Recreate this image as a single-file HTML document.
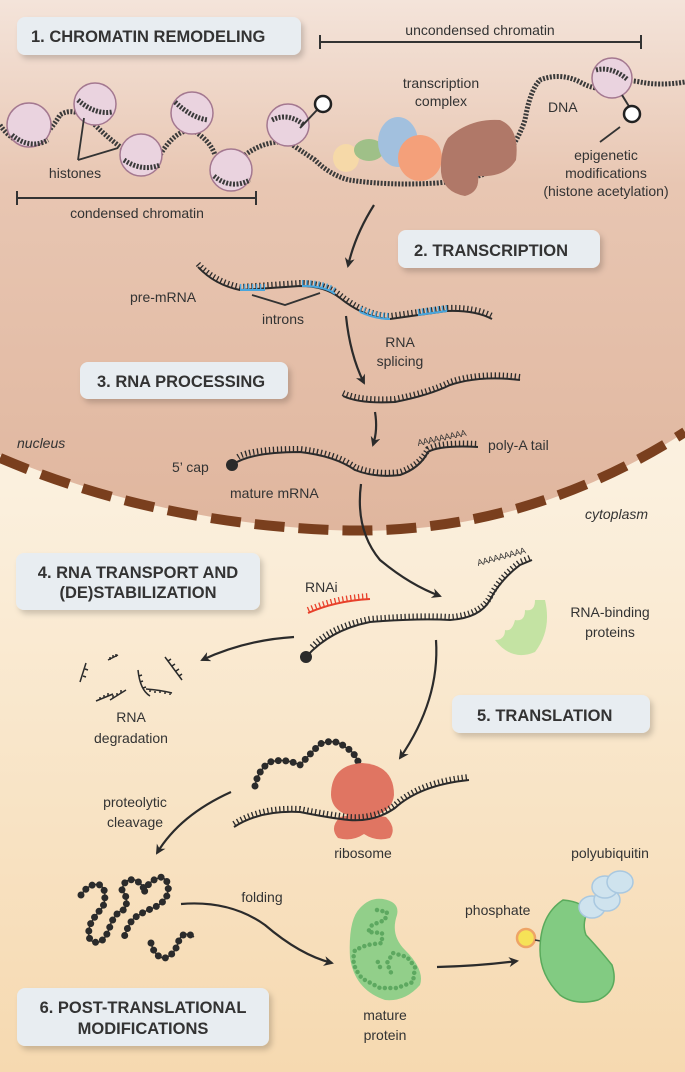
<!DOCTYPE html>
<html><head><meta charset="utf-8"><style>
html,body{margin:0;padding:0;width:685px;height:1072px;overflow:hidden}
svg{display:block}
text{font-family:"Liberation Sans",sans-serif;fill:#333}
.lb{font-size:14px}
.bx{font-size:16.5px;font-weight:bold;fill:#333}
.s{fill:none;stroke:#2b2b2b;stroke-width:2}
.t{fill:none;stroke:#2b2b2b;stroke-width:6;stroke-dasharray:1.3 2.7}
.tb{fill:none;stroke:#4aa6dc;stroke-width:6;stroke-dasharray:1.3 2.7}
.sb{fill:none;stroke:#4aa6dc;stroke-width:2}
.ar{fill:none;stroke:#2b2b2b;stroke-width:2.2;marker-end:url(#ah)}
.dna{fill:none;stroke:#3a3a3a;stroke-width:5;stroke-dasharray:2 1.5}
.h{fill:#ead3df;stroke:#a47890;stroke-width:1.5}
.box{fill:#e8edf1;filter:url(#sh)}
.bead{fill:none;stroke:#2b2b2b;stroke-width:7;stroke-linecap:round;stroke-dasharray:0 7.5}
.beadl{fill:none;stroke:#2b2b2b;stroke-width:1.5}
</style></head><body>
<svg width="685" height="1072" viewBox="0 0 685 1072" xmlns="http://www.w3.org/2000/svg">
<defs>
<linearGradient id="nuc" x1="0" y1="0" x2="0" y2="1">
<stop offset="0" stop-color="#f4e4da"/><stop offset="0.35" stop-color="#e8c6b2"/><stop offset="1" stop-color="#e0b69e"/></linearGradient>
<linearGradient id="cyt" x1="0" y1="0" x2="0" y2="1">
<stop offset="0" stop-color="#fcf8ef"/><stop offset="0.45" stop-color="#fbf0de"/><stop offset="1" stop-color="#f6d9b0"/></linearGradient>
<marker id="ah" markerWidth="10" markerHeight="10" refX="8" refY="5" orient="auto" markerUnits="userSpaceOnUse"><path d="M0,0 L10,5 L0,10 L3,5 Z" fill="#2b2b2b"/></marker>
<filter id="sh" x="-10%" y="-20%" width="130%" height="160%"><feDropShadow dx="3" dy="4" stdDeviation="3" flood-color="#000" flood-opacity="0.18"/></filter>
</defs>
<rect width="685" height="1072" fill="url(#cyt)"/>
<path d="M0,0 H685 V432 Q520,540 330,530 Q150,520 0,455 Z" fill="url(#nuc)"/>
<path d="M0,458 Q150,522 330,530 Q520,538 685,432" fill="none" stroke="#7a3f1e" stroke-width="10" stroke-dasharray="30 14"/>

<!-- box 1 -->
<rect class="box" x="17" y="17" width="284" height="38" rx="8"/>
<text class="bx" x="31" y="42">1. CHROMATIN REMODELING</text>
<text class="lb" x="480" y="35" text-anchor="middle">uncondensed chromatin</text>
<path d="M320,42 H641 M320,35 V49 M641,35 V49" stroke="#333" stroke-width="2"/>

<!-- DNA -->
<path class="dna" d="M0,125 Q10,140 28,145 Q45,140 60,115 Q75,105 95,125 Q110,140 125,150 Q135,160 160,155 Q175,130 192,130 Q210,140 215,155 Q225,165 245,155 Q265,140 288,142 Q300,150 315,160 Q330,175 349,180 Q390,186 437,183 Q470,180 490,172 Q515,150 525,120 Q530,90 540,80 Q560,72 580,82 Q598,92 605,85 Q620,78 640,82 Q660,86 685,82"/>
<circle class="h" cx="29" cy="125" r="22"/>
<circle class="h" cx="95" cy="104" r="21"/>
<circle class="h" cx="141" cy="155" r="21"/>
<circle class="h" cx="192" cy="113" r="21"/>
<circle class="h" cx="231" cy="170" r="21"/>
<circle class="h" cx="288" cy="125" r="21"/>
<circle class="h" cx="612" cy="78" r="20"/>
<path class="dna" d="M12,135 Q30,150 48,140 M78,100 Q95,115 112,112 M124,160 Q142,172 160,165 M175,102 Q192,118 208,120 M214,176 Q231,190 250,180 M272,120 Q288,112 304,125 M596,70 Q612,66 628,80"/>
<path d="M300,128 L317,110" stroke="#333" stroke-width="2"/>
<circle cx="323" cy="104" r="8" fill="#fff" stroke="#222" stroke-width="2.5"/>
<path d="M622,95 L630,108" stroke="#333" stroke-width="2"/>
<circle cx="632" cy="114" r="8" fill="#fff" stroke="#222" stroke-width="2.5"/>
<path d="M78,160 L84,118 M78,160 L118,148" stroke="#333" stroke-width="1.8" fill="none"/>
<text class="lb" x="75" y="178" text-anchor="middle">histones</text>
<path d="M17,198 H256 M17,191 V205 M256,191 V205" stroke="#333" stroke-width="2"/>
<text class="lb" x="137" y="218" text-anchor="middle">condensed chromatin</text>

<!-- transcription complex -->
<text class="lb" x="441" y="88" text-anchor="middle">transcription</text>
<text class="lb" x="441" y="106" text-anchor="middle">complex</text>
<ellipse cx="346" cy="158" rx="13" ry="14" fill="#f6d9a8"/>
<ellipse cx="369" cy="150" rx="15" ry="11" fill="#9fc088"/>
<ellipse cx="398" cy="142" rx="20" ry="25" fill="#a2c0de"/>
<ellipse cx="420" cy="158" rx="22" ry="23" fill="#f4a07a"/>
<path d="M448,138 Q470,118 500,120 Q520,128 516,160 Q505,178 478,176 Q480,192 465,196 Q443,192 441,172 Q440,150 448,138 Z" fill="#b07868"/>
<text class="lb" x="548" y="112">DNA</text>
<text class="lb" x="606" y="160" text-anchor="middle">epigenetic</text>
<text class="lb" x="606" y="178" text-anchor="middle">modifications</text>
<text class="lb" x="606" y="196" text-anchor="middle">(histone acetylation)</text>
<path d="M600,142 L620,127" stroke="#333" stroke-width="1.8"/>

<!-- transcription -->
<path class="ar" d="M374,205 Q355,235 348,266"/>
<rect class="box" x="398" y="230" width="202" height="38" rx="8"/>
<text class="bx" x="414" y="256">2. TRANSCRIPTION</text>

<!-- pre-mRNA -->
<g>
<path class="s" d="M198,267 Q215,285 240,290 L300,286 Q325,286 340,298 Q365,318 390,319 L447,311 Q475,310 492,319"/>
<g transform="translate(0,-3)"><path class="t" d="M198,267 Q215,285 240,290 L300,286 Q325,286 340,298 Q365,318 390,319 L447,311 Q475,310 492,319"/></g>
<path class="sb" d="M240,290 L265,290 M302,286 Q325,286 335,294 M360,312 Q375,319 390,319 M418,315 L447,311"/>
<g transform="translate(0,-3)"><path class="tb" d="M240,290 L265,290 M302,286 Q325,286 335,294 M360,312 Q375,319 390,319 M418,315 L447,311"/></g>
</g>
<text class="lb" x="130" y="302">pre-mRNA</text>
<path d="M252,295 L285,305 L320,293" stroke="#333" stroke-width="1.8" fill="none"/>
<text class="lb" x="283" y="324" text-anchor="middle">introns</text>
<path class="ar" d="M346,316 Q350,355 364,383"/>
<text class="lb" x="400" y="347" text-anchor="middle">RNA</text>
<text class="lb" x="400" y="366" text-anchor="middle">splicing</text>
<rect class="box" x="80" y="362" width="208" height="37" rx="8"/>
<text class="bx" x="97" y="387">3. RNA PROCESSING</text>
<path class="s" d="M343,396 Q360,404 395,402 Q430,395 450,385 Q480,375 520,380"/>
<g transform="translate(0,-3)"><path class="t" d="M343,396 Q360,404 395,402 Q430,395 450,385 Q480,375 520,380"/></g>
<path class="ar" d="M375,412 Q378,430 373,445"/>

<text class="lb" x="17" y="448" font-style="italic">nucleus</text>
<text class="lb" x="172" y="472">5’ cap</text>
<circle cx="232" cy="465" r="6" fill="#2b2b2b"/>
<path class="s" d="M232,465 Q250,452 300,452 Q335,456 355,470 Q375,478 400,475 Q420,468 428,452 Q440,445 478,447"/>
<g transform="translate(0,-3)"><path class="t" d="M238,460 Q250,452 300,452 Q335,456 355,470 Q375,478 400,475 Q420,468 428,452 Q440,445 478,447"/></g>
<text x="418" y="446" font-size="9" transform="rotate(-12 418 446)" letter-spacing="-0.5">AAAAAAAAA</text>
<text class="lb" x="488" y="450">poly-A tail</text>
<text class="lb" x="230" y="498">mature mRNA</text>
<text class="lb" x="585" y="519" font-style="italic">cytoplasm</text>
<path class="ar" d="M361,484 Q355,530 380,560 Q410,585 440,596"/>

<!-- box 4 -->
<rect class="box" x="16" y="553" width="244" height="57" rx="8"/>
<text class="bx" x="138" y="578" text-anchor="middle">4. RNA TRANSPORT AND</text>
<text class="bx" x="138" y="598" text-anchor="middle">(DE)STABILIZATION</text>
<text class="lb" x="305" y="592">RNAi</text>
<path d="M308,613 Q335,601 370,599" fill="none" stroke="#e8402a" stroke-width="2"/>
<g transform="translate(0,-3)"><path d="M308,613 Q335,601 370,599" fill="none" stroke="#e8402a" stroke-width="6" stroke-dasharray="1.3 2.7"/></g>
<circle cx="306" cy="657" r="6" fill="#2b2b2b"/>
<path class="s" d="M306,657 Q330,630 370,622 Q420,618 450,620 Q480,618 490,600 Q500,580 520,565 L532,560"/>
<g transform="translate(0,-3)"><path class="t" d="M312,650 Q330,630 370,622 Q420,618 450,620 Q480,618 490,600 Q500,580 520,565 L532,560"/></g>
<text x="478" y="566" font-size="9" transform="rotate(-15 478 566)" letter-spacing="-0.5">AAAAAAAAA</text>
<path d="M545,600 Q552,630 535,652 Q512,662 495,640 Q505,640 505,630 Q512,632 515,620 Q525,622 525,610 Q535,612 535,600 Z" fill="#c4e3a3"/>
<text class="lb" x="610" y="617" text-anchor="middle">RNA-binding</text>
<text class="lb" x="610" y="637" text-anchor="middle">proteins</text>
<path class="ar" d="M294,637 Q245,640 202,660"/>
<g stroke="#2b2b2b" stroke-width="1.5" fill="none">
<path d="M108,660 L118,655 M110,660v-3 M113,658v-3 M116,657v-3"/>
<path d="M165,657 L182,680 M168,661l3,-2 M172,666l3,-2 M176,671l3,-2 M179,676l3,-2"/>
<path d="M138,670 Q140,690 150,696 M139,676l3,-1 M140,682l3,-1 M143,688l3,-1"/>
<path d="M80,682 L86,663 M83,676l3,1 M85,669l3,1"/>
<path d="M110,700 L126,690 M113,698v-3 M117,696v-3 M121,693v-3"/>
<path d="M96,701 L113,694 M100,700v-3 M104,698v-3 M108,696v-3"/>
<path d="M146,689 Q160,690 172,693 M150,689v3 M155,690v3 M160,690v3 M165,691v3 M170,692v3"/>
</g>
<text class="lb" x="131" y="722" text-anchor="middle">RNA</text>
<text class="lb" x="131" y="743" text-anchor="middle">degradation</text>

<!-- translation -->
<rect class="box" x="452" y="695" width="198" height="38" rx="8"/>
<text class="bx" x="477" y="721">5. TRANSLATION</text>
<path class="ar" d="M436,640 Q440,700 400,758"/>
<path class="beadl" d="M255,786 Q258,770 270,762 Q285,758 300,765 Q312,752 320,744 Q335,738 345,747 Q355,752 359,764"/>
<path class="bead" d="M255,786 Q258,770 270,762 Q285,758 300,765 Q312,752 320,744 Q335,738 345,747 Q355,752 359,764"/>
<path d="M362,763 Q394,765 394,795 Q392,815 362,818 Q332,815 331,795 Q331,765 362,763 Z" fill="#e07562"/>
<path d="M340,817 Q362,812 386,817 Q397,828 390,838 Q376,842 364,834 Q352,842 338,838 Q329,828 340,817 Z" fill="#e07562"/>
<path class="s" d="M234,827 Q260,810 300,812 Q330,818 349,820 Q375,822 395,808 Q420,785 469,780"/>
<g transform="translate(0,-3)"><path class="t" d="M234,827 Q260,810 300,812 Q330,818 349,820 Q375,822 395,808 Q420,785 469,780"/></g>
<text class="lb" x="363" y="858" text-anchor="middle">ribosome</text>
<text class="lb" x="135" y="807" text-anchor="middle">proteolytic</text>
<text class="lb" x="135" y="827" text-anchor="middle">cleavage</text>
<path class="ar" d="M231,792 Q180,815 157,853"/>

<!-- folded chain -->
<path class="beadl" d="M81,895 Q90,882 100,885 Q108,890 103,907 Q95,915 90,925 Q86,940 94,942 Q105,945 111,923 Q118,910 124,910 Q130,900 122,890 Q124,878 135,880 Q145,885 144,893 Q148,880 162,877 Q170,882 168,890 Q168,903 148,910 Q132,918 131,922 Q126,930 124,938"/>
<path class="bead" d="M81,895 Q90,882 100,885 Q108,890 103,907 Q95,915 90,925 Q86,940 94,942 Q105,945 111,923 Q118,910 124,910 Q130,900 122,890 Q124,878 135,880 Q145,885 144,893 Q148,880 162,877 Q170,882 168,890 Q168,903 148,910 Q132,918 131,922 Q126,930 124,938"/>
<path class="beadl" d="M151,943 Q155,958 165,958 Q175,955 179,940 Q184,930 194,937"/>
<path class="bead" d="M151,943 Q155,958 165,958 Q175,955 179,940 Q184,930 194,937"/>
<text class="lb" x="262" y="902" text-anchor="middle">folding</text>
<path class="ar" d="M181,904 Q230,900 265,925 Q300,955 332,963"/>

<!-- mature protein -->
<path d="M383,899 Q400,902 397,915 Q390,935 405,950 Q425,970 420,985 Q405,1002 385,1000 Q355,990 350,958 Q348,920 360,908 Q370,897 383,899 Z" fill="#92cf8a"/>
<path d="M377,910 L387,912 L385,920 L372,925 L368,932 L382,933 L382,943 L367,945 L355,950 Q352,960 355,967 Q360,978 365,980 L380,988 L397,988 L413,982 L415,967 L407,957 L393,953 L387,963 L392,975 M380,967 L377,960" fill="none" stroke="#5da860" stroke-width="4.5" stroke-linecap="round" stroke-dasharray="0 5.5"/>
<text class="lb" x="385" y="1020" text-anchor="middle">mature</text>
<text class="lb" x="385" y="1040" text-anchor="middle">protein</text>
<path class="ar" d="M437,967 Q480,966 517,961"/>
<text class="lb" x="465" y="915">phosphate</text>
<circle cx="526" cy="938" r="9" fill="#f6e257" stroke="#eea466" stroke-width="2.5"/>
<path d="M535,940 L546,942" stroke="#333" stroke-width="1.5"/>
<path d="M563,900 Q585,902 587,913 Q582,925 586,935 Q600,950 612,965 Q620,990 598,1000 Q575,1006 560,995 Q540,975 540,950 Q540,915 563,900 Z" fill="#82cb82" stroke="#5aaa5c" stroke-width="1.5"/>
<g fill="#cfe3ee" stroke="#a9c8e0" stroke-width="1.5">
<ellipse cx="592" cy="907" rx="13" ry="11"/><ellipse cx="607" cy="900" rx="13" ry="11"/><ellipse cx="605" cy="887" rx="13" ry="11"/><ellipse cx="620" cy="882" rx="13" ry="11"/>
</g>
<text class="lb" x="610" y="858" text-anchor="middle">polyubiquitin</text>

<!-- box 6 -->
<rect class="box" x="17" y="988" width="252" height="58" rx="8"/>
<text class="bx" x="143" y="1013" text-anchor="middle">6. POST-TRANSLATIONAL</text>
<text class="bx" x="143" y="1034" text-anchor="middle">MODIFICATIONS</text>
</svg>
</body></html>
